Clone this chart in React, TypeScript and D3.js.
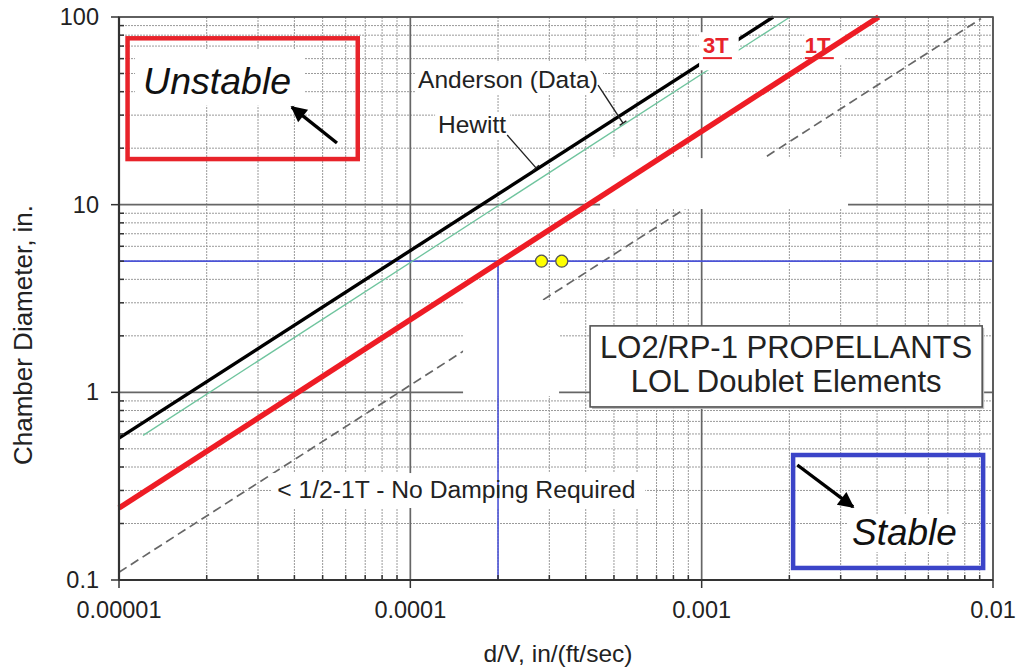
import React from 'react';
import * as d3 from 'd3';

// ---------- data ----------
const xTickValues = [1e-5, 1e-4, 1e-3, 1e-2];
const xTickLabels = ['0.00001', '0.0001', '0.001', '0.01'];
const yTickValues = [0.1, 1, 10, 100];
const yTickLabels = ['0.1', '1', '10', '100'];

const andersonX = [1e-5, 1.76e-3];
const andersonY = [0.57, 100];
const hewittX = [1.21e-5, 2.01e-3];
const hewittY = [0.59, 100];
const oneTX = [1e-5, 4.05e-3];
const oneTY = [0.242, 100];
const halfTX = [1e-5, 9.1e-3];
const halfTY = [0.11, 98];

const refDiameter = 5;
const refDV = 2e-4;
const pointsX = [2.82e-4, 3.31e-4];
const pointsY = [5, 5];

// white patches of the original figure (data coords: x0, x1, yTop, yBottom)
const masksLow = [
  [1.135e-5, 4.35e-5, 66.7, 33.7],
  [1.038e-4, 4.59e-4, 57.5, 38.4],
  [1.216e-4, 2.2e-4, 31.1, 22.1],
  [4.48e-4, 3.18e-3, 17.7, 9.48],
  [1.517e-4, 3.24e-4, 3.1, 0.955],
  [3.35e-5, 6.4e-4, 0.3715, 0.2419],
  [2.25e-3, 3.1e-3, 85, 55.4],
  [3.18e-3, 7.83e-3, 0.222, 0.141],
];
const mask3T = [9.8e-4, 1.34e-3, 83, 52];

const W = 1021;
const H = 669;
const FONT = 'Liberation Sans, Arial, sans-serif';

export default function App() {
  const x = d3.scaleLog().domain([1e-5, 1e-2]).range([119, 993]);
  const y = d3.scaleLog().domain([0.1, 100]).range([580, 17]);
  const [x0, x1] = x.range();
  const [y0, y1] = y.range();

  const minorX: number[] = [];
  for (let e = -5; e <= -3; e++) for (let k = 2; k <= 9; k++) minorX.push(k * Math.pow(10, e));
  const minorY: number[] = [];
  for (let e = -1; e <= 1; e++) for (let k = 2; k <= 9; k++) minorY.push(k * Math.pow(10, e));

  const line = d3
    .line<[number, number]>()
    .x((d) => x(d[0]))
    .y((d) => y(d[1]));
  const pts = (xs: number[], ys: number[]) => xs.map((v, i) => [v, ys[i]] as [number, number]);

  const maskRect = (m: number[], key: string | number) => (
    <rect key={key} x={x(m[0])} y={y(m[2])} width={x(m[1]) - x(m[0])} height={y(m[3]) - y(m[2])} fill="#fff" />
  );

  // annotation anchors (data coords)
  const unstableBox = [1.07e-5, 6.6e-5, 77, 17.5];
  const stableBox = [2.06e-3, 9.25e-3, 0.4634, 0.1159];
  const infoBox = [4.14e-4, 9.18e-3, 2.26, 0.836];

  const boxRect = (b: number[], stroke: string, sw: number, fill = 'none') => (
    <rect x={x(b[0])} y={y(b[2])} width={x(b[1]) - x(b[0])} height={y(b[3]) - y(b[2])} fill={fill} stroke={stroke} strokeWidth={sw} />
  );

  const leader = (ax: number, ay: number, bx: number, by: number) => {
    const X1 = x(ax), Y1 = y(ay), X2 = x(bx), Y2 = y(by);
    const dx = X2 - X1, dy = Y2 - Y1;
    const L = Math.hypot(dx, dy);
    const nx = -dy / L, ny = dx / L;
    return (
      <g stroke="#222" strokeWidth={1.4}>
        <line x1={X1} y1={Y1} x2={X2} y2={Y2} />
        <line x1={X2 - nx * 4} y1={Y2 - ny * 4} x2={X2 + nx * 4} y2={Y2 + ny * 4} />
      </g>
    );
  };

  return (
    <svg width={W} height={H} style={{ position: 'absolute', left: 0, top: 0, background: '#fff' }} fontFamily={FONT}>
      <defs>
        <marker id="ah" viewBox="0 0 10 10" refX="9" refY="5" markerWidth="19" markerHeight="16" markerUnits="userSpaceOnUse" orient="auto">
          <path d="M0,0 L10,5 L0,10 z" fill="#000" />
        </marker>
      </defs>
      <rect width={W} height={H} fill="#fff" />

      {/* minor grid */}
      <g stroke="#9a9a9a" strokeWidth={1} strokeDasharray="2,1">
        {minorX.map((v) => (
          <line key={'mx' + v} x1={x(v)} x2={x(v)} y1={y1} y2={y0} />
        ))}
        {minorY.map((v) => (
          <line key={'my' + v} x1={x0} x2={x1} y1={y(v)} y2={y(v)} />
        ))}
      </g>
      {/* major grid */}
      <g stroke="#666" strokeWidth={1.7}>
        {xTickValues.map((v) => (
          <line key={'Mx' + v} x1={x(v)} x2={x(v)} y1={y1} y2={y0} />
        ))}
        {yTickValues.map((v) => (
          <line key={'My' + v} x1={x0} x2={x1} y1={y(v)} y2={y(v)} />
        ))}
      </g>

      {/* dashed 1/2T line */}
      <path d={line(pts(halfTX, halfTY)) || ''} fill="none" stroke="#666" strokeWidth={1.7} strokeDasharray="9,5" />

      {masksLow.map((m, i) => maskRect(m, i))}

      {/* blue reference lines */}
      <g stroke="#4b53d6" strokeWidth={1.6}>
        <line x1={x0} x2={x1} y1={y(refDiameter)} y2={y(refDiameter)} />
        <line x1={x(refDV)} x2={x(refDV)} y1={y0} y2={y(refDiameter)} />
      </g>

      {/* 1T red */}
      <path d={line(pts(oneTX, oneTY)) || ''} fill="none" stroke="#ee1c25" strokeWidth={5.5} />
      {/* Hewitt green */}
      <path d={line(pts(hewittX, hewittY)) || ''} fill="none" stroke="#6fc49e" strokeWidth={1.3} />
      {/* Anderson black */}
      <path d={line(pts(andersonX, andersonY)) || ''} fill="none" stroke="#000" strokeWidth={3.4} />

      {maskRect(mask3T, 'm3t')}

      {/* data points */}
      {pointsX.map((v, i) => (
        <circle key={'p' + i} cx={x(v)} cy={y(pointsY[i])} r={6} fill="#ffff00" stroke="#555" strokeWidth={1.3} />
      ))}

      {/* frame */}
      <rect x={x0} y={y1} width={x1 - x0} height={y0 - y1} fill="none" stroke="#555" strokeWidth={1.6} />
      <line x1={x0} x2={x0} y1={y1} y2={y0} stroke="#333" strokeWidth={2.2} />
      <line x1={x0} x2={x1} y1={y0} y2={y0} stroke="#333" strokeWidth={2.2} />
      {/* ticks */}
      <g stroke="#333" strokeWidth={1.5}>
        {xTickValues.map((v) => (
          <line key={'tx' + v} x1={x(v)} x2={x(v)} y1={y0} y2={y0 + 8} />
        ))}
        {minorX.map((v) => (
          <line key={'tmx' + v} x1={x(v)} x2={x(v)} y1={y0} y2={y0 - 5} />
        ))}
        {yTickValues.map((v) => (
          <line key={'ty' + v} x1={x0 - 8} x2={x0} y1={y(v)} y2={y(v)} />
        ))}
        {minorY.map((v) => (
          <line key={'tmy' + v} x1={x0} x2={x0 + 5} y1={y(v)} y2={y(v)} />
        ))}
      </g>

      {/* tick labels */}
      <g fill="#222" fontSize={23.5}>
        {xTickValues.map((v, i) => (
          <text key={'lx' + v} x={x(v)} y={y0 + 38} textAnchor="middle">
            {xTickLabels[i]}
          </text>
        ))}
        {yTickValues.map((v, i) => (
          <text key={'ly' + v} x={x0 - 20} y={y(v) + 8} textAnchor="end">
            {yTickLabels[i]}
          </text>
        ))}
      </g>
      {/* axis titles */}
      <text x={558} y={662} textAnchor="middle" fontSize={24.5} fill="#222">
        d/V, in/(ft/sec)
      </text>
      <text transform="translate(32,335) rotate(-90)" textAnchor="middle" fontSize={26} fill="#222">
        Chamber Diameter, in.
      </text>

      {/* Unstable box */}
      {boxRect(unstableBox, '#e8232a', 4.5)}
      <text x={x(1.21e-5)} y={y(38.8)} fontSize={37.5} fontStyle="italic" fill="#111">
        Unstable
      </text>
      <line x1={x(5.6e-5)} y1={y(21.3)} x2={x(3.92e-5)} y2={y(33.1)} stroke="#000" strokeWidth={3.4} markerEnd="url(#ah)" />

      {/* Stable box */}
      {boxRect(stableBox, '#3b44c8', 4.5)}
      <text x={x(3.28e-3)} y={y(0.1537)} fontSize={37} fontStyle="italic" fill="#111">
        Stable
      </text>
      <line x1={x(2.13e-3)} y1={y(0.41)} x2={x(3.31e-3)} y2={y(0.245)} stroke="#000" strokeWidth={3.4} markerEnd="url(#ah)" />

      {/* info box */}
      <rect x={x(infoBox[0]) + 2} y={y(infoBox[2]) + 2} width={x(infoBox[1]) - x(infoBox[0])} height={y(infoBox[3]) - y(infoBox[2])} fill="#bbb" />
      {boxRect(infoBox, '#555', 1.6, '#fff')}
      <text x={x(1.95e-3)} y={y(1.52)} textAnchor="middle" fontSize={31} fill="#222">
        LO2/RP-1 PROPELLANTS
      </text>
      <text x={x(1.95e-3)} y={y(1.004)} textAnchor="middle" fontSize={31} fill="#222">
        LOL Doublet Elements
      </text>

      {/* damping note */}
      <text x={x(3.49e-5)} y={y(0.2735)} fontSize={24.7} fill="#222">
        {'< 1/2-1T - No Damping Required'}
      </text>

      {/* curve labels */}
      <text x={x(1.063e-4)} y={y(41.8)} fontSize={24.5} fill="#222">
        Anderson (Data)
      </text>
      {leader(4.41e-4, 43.4, 5.37e-4, 27.2)}
      <text x={x(1.245e-4)} y={y(24.1)} fontSize={24.5} fill="#222">
        Hewitt
      </text>
      {leader(2.15e-4, 23.5, 2.7e-4, 15.7)}

      <text x={x(1.01e-3)} y={y(64.2)} fontSize={22} fontWeight="bold" fill="#e8232a">
        3T
      </text>
      <line x1={x(1.01e-3)} x2={x(1.01e-3) + 29} y1={y(64.2) + 5} y2={y(64.2) + 5} stroke="#e8232a" strokeWidth={2} />
      <text x={x(2.26e-3)} y={y(64.2)} fontSize={22} fontWeight="bold" fill="#e8232a">
        1T
      </text>
      <line x1={x(2.26e-3)} x2={x(2.26e-3) + 29} y1={y(64.2) + 5} y2={y(64.2) + 5} stroke="#e8232a" strokeWidth={2} />
    </svg>
  );
}
